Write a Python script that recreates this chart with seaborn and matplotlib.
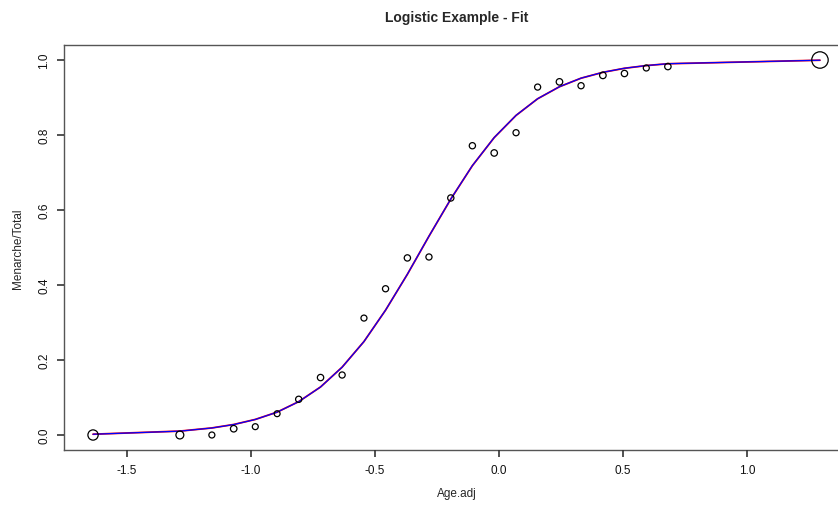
import pandas as pd
import matplotlib
matplotlib.use("Agg")
import matplotlib.pyplot as plt
import matplotlib.transforms as mtransforms
import seaborn as sns

# menarche data (adjusted age), observed proportions and fitted logistic values
age_adj = [-1.637, -1.287, -1.158, -1.070, -0.983, -0.895, -0.808, -0.720,
           -0.633, -0.545, -0.458, -0.370, -0.283, -0.195, -0.108, -0.020,
           0.068, 0.155, 0.243, 0.330, 0.418, 0.505, 0.593, 0.680, 1.293]
total = [376, 200, 93, 120, 90, 88, 105, 111, 100, 93, 100, 108, 99, 106,
         105, 117, 98, 97, 120, 102, 122, 111, 94, 114, 1049]
prop = [0.0, 0.0, 0.0, 0.0167, 0.0222, 0.0568, 0.0952, 0.1532, 0.16, 0.3118,
        0.39, 0.4722, 0.4747, 0.6321, 0.7714, 0.7521, 0.8061, 0.9278, 0.9417,
        0.9314, 0.959, 0.964, 0.9787, 0.9825, 1.0]
fit_glm = [0.0020, 0.0103, 0.0187, 0.0279, 0.0414, 0.0609, 0.0889, 0.1280,
           0.1808, 0.2492, 0.3329, 0.4287, 0.5302, 0.6293, 0.7184, 0.7933,
           0.8524, 0.8967, 0.9288, 0.9516, 0.9672, 0.9780, 0.9852, 0.9901,
           0.9994]
fit_nls = [0.0021, 0.0104, 0.0188, 0.0280, 0.0415, 0.0610, 0.0890, 0.1281,
           0.1809, 0.2492, 0.3328, 0.4285, 0.5300, 0.6291, 0.7182, 0.7931,
           0.8522, 0.8966, 0.9287, 0.9515, 0.9671, 0.9779, 0.9851, 0.9900,
           0.9994]
xticks = [-1.5, -1.0, -0.5, 0.0, 0.5, 1.0]
yticks = [0.0, 0.2, 0.4, 0.6, 0.8, 1.0]

df = pd.DataFrame({"Age.adj": age_adj, "Total": total, "prop": prop,
                   "glm": fit_glm, "nls": fit_nls})

sns.set_style("ticks")
plt.rcParams["font.family"] = ["Liberation Sans", "DejaVu Sans"]

fig = plt.figure(figsize=(8.38, 5.06), dpi=100)
ax = fig.add_axes([64 / 838, 55 / 506, 785 / 838, 405 / 506])

sns.scatterplot(data=df, x="Age.adj", y="prop", size="Total",
                sizes=(18, 140), size_norm=(88, 1049), facecolor="none",
                edgecolor="black", linewidth=0.9, legend=False, ax=ax, zorder=3)
sns.lineplot(data=df, x="Age.adj", y="nls", color="red", linewidth=1.3, ax=ax)
sns.lineplot(data=df, x="Age.adj", y="glm", color="blue", linewidth=0.9, ax=ax)

ax.set_xlim(-1.754, 1.41)
ax.set_ylim(-0.04, 1.04)
ax.set_xticks(xticks)
ax.set_yticks(yticks)
ax.set_xticklabels([f"{t:.1f}" for t in xticks])
ax.set_yticklabels([f"{t:.1f}" for t in yticks], rotation=90, va="center")
# tick marks drawn as plain lines (R style, outward)
ax.tick_params(axis="both", length=0, labelsize=8.5, pad=10,
               labelcolor="#111111")
bx = mtransforms.blended_transform_factory(ax.transData, ax.transAxes)
by = mtransforms.blended_transform_factory(ax.transAxes, ax.transData)
for t in xticks:
    ax.plot([t, t], [0, -7 / 405], transform=bx, clip_on=False,
            color="#333333", lw=1.2, solid_capstyle="butt", zorder=5)
for t in yticks:
    ax.plot([0, -7 / 785], [t, t], transform=by, clip_on=False,
            color="#333333", lw=1.2, solid_capstyle="butt", zorder=5)
for s in ax.spines.values():
    s.set_visible(True)
    s.set_color("#555555")
    s.set_linewidth(1.0)

ax.set_xlabel("Age.adj", fontsize=8.5, labelpad=8)
ax.set_ylabel("Menarche/Total", fontsize=8.5, labelpad=10)
fig.suptitle("Logistic Example - Fit", fontsize=10, fontweight="bold",
             x=457 / 838, y=1 - 18 / 506, va="center")

fig.savefig("out.png", dpi=100)
